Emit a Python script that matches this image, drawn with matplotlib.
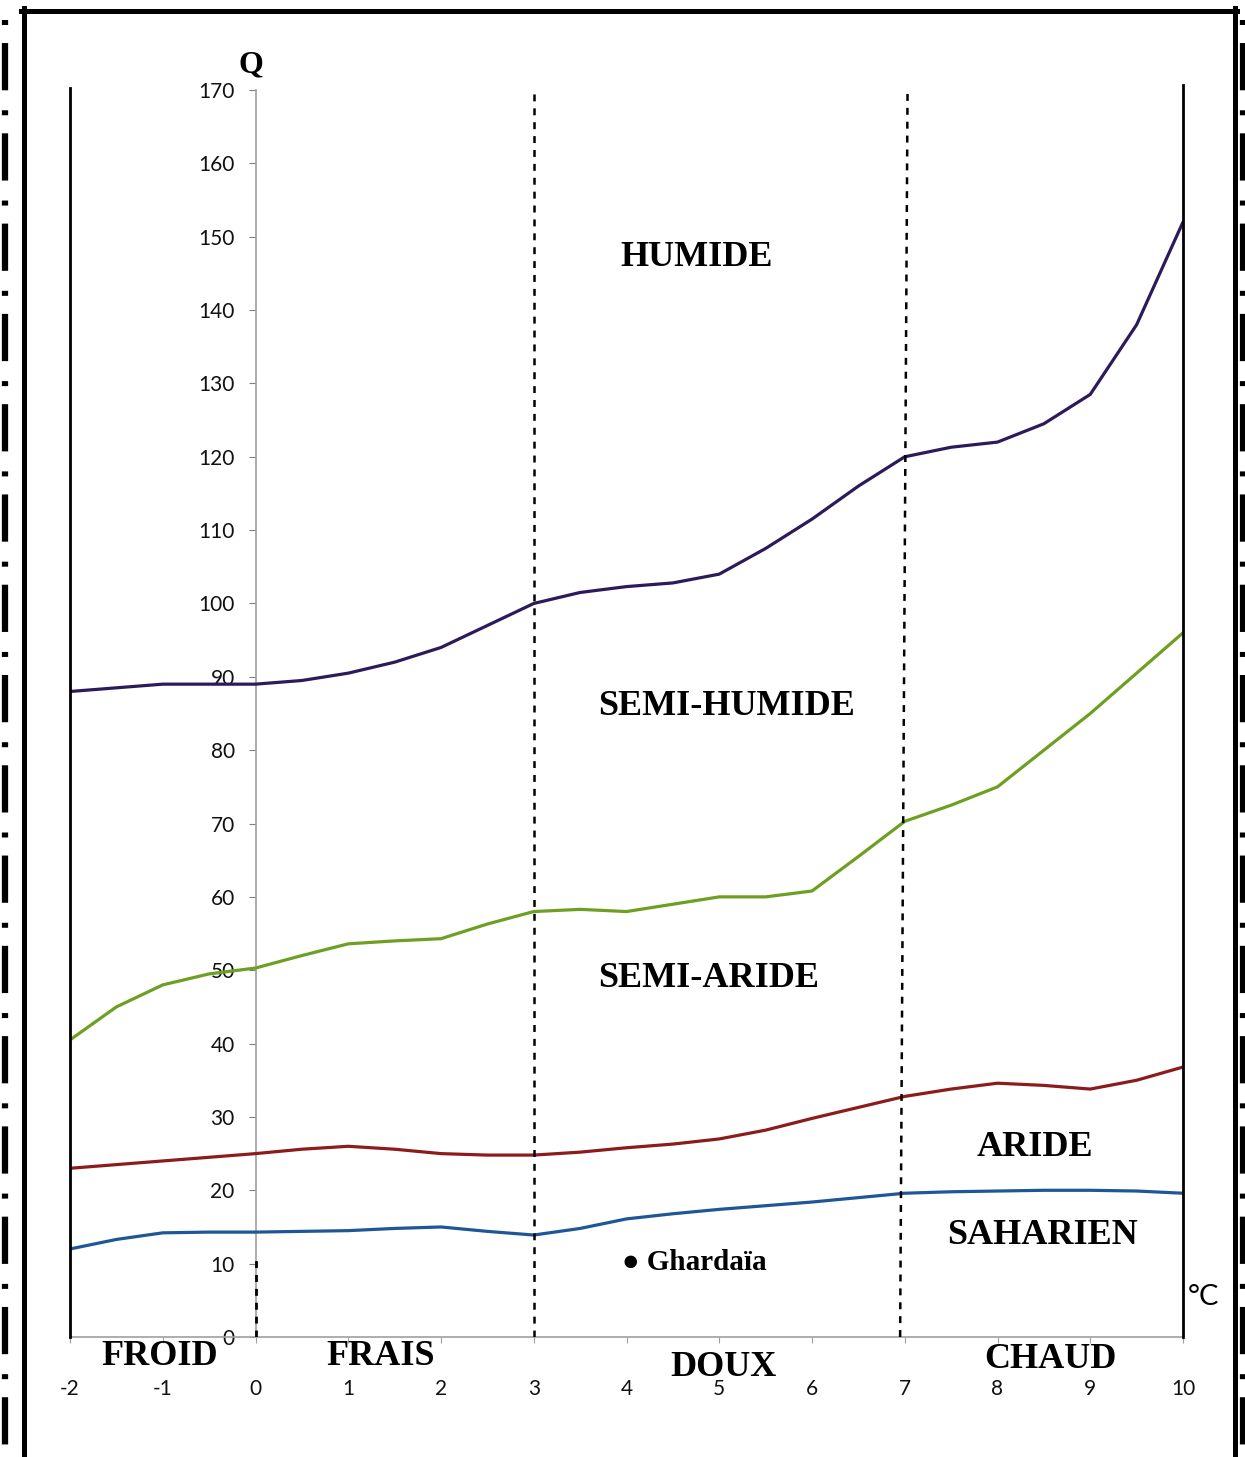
import matplotlib
matplotlib.use("Agg")
import matplotlib.pyplot as plt
from matplotlib.lines import Line2D

plt.rcParams["lines.scale_dashes"] = False

# temperature m (°C), read every half unit
t_vals = [-2, -1.5, -1, -0.5, 0, 0.5, 1, 1.5, 2, 2.5, 3, 3.5, 4, 4.5,
          5, 5.5, 6, 6.5, 7, 7.5, 8, 8.5, 9, 9.5, 10]

# boundary curves of the climagram (Q values)
humide = [88, 88.5, 89, 89, 89, 89.5, 90.5, 92, 94, 97, 100, 101.5, 102.3,
          102.8, 104, 107.5, 111.5, 116, 120, 121.3, 122, 124.5, 128.5, 138, 152]
semi_humide = [40.5, 45, 48, 49.5, 50.3, 52, 53.6, 54, 54.3, 56.3, 58, 58.3, 58,
               59, 60, 60, 60.8, 65.5, 70.3, 72.5, 75, 80, 85, 90.5, 96]
semi_aride = [23, 23.5, 24, 24.5, 25, 25.6, 26, 25.6, 25, 24.8, 24.8, 25.2, 25.8,
              26.3, 27, 28.2, 29.8, 31.3, 32.8, 33.8, 34.6, 34.3, 33.8, 35, 36.8]
aride = [12, 13.3, 14.2, 14.3, 14.3, 14.4, 14.5, 14.8, 15, 14.4, 13.9, 14.8, 16.1,
         16.8, 17.4, 17.9, 18.4, 19, 19.6, 19.8, 19.9, 20, 20, 19.9, 19.6]

curve_colors = ["#2c1a5a", "#6e9f22", "#8c1c1c", "#1f5796"]

x_ticks = list(range(-2, 11))
x_tick_labels = ["-2", "-1"] + [str(v) for v in range(0, 11)]
y_ticks = list(range(0, 171, 10))

zones = ["HUMIDE", "SEMI-HUMIDE", "SEMI-ARIDE", "ARIDE", "SAHARIEN"]
zone_pos = [(4.76, 147.2), (5.08, 85.9), (4.89, 48.9), (8.4, 25.8), (8.49, 13.8)]
winters = ["FROID", "FRAIS", "DOUX", "CHAUD"]
winter_pos = [(-1.03, -2.7), (1.35, -2.7), (5.05, -4.1), (8.57, -3.1)]

station = "Ghardaïa"
station_m, station_q = 4.0, 10.2

W, H = 1245, 1457
fig = plt.figure(figsize=(W / 100, H / 100), dpi=100)
ax = fig.add_axes([70 / W, 1 - 1337 / H, (1183 - 70) / W, (1337 - 90) / H])
ax.set_xlim(-2, 10)
ax.set_ylim(0, 170)

for s in ["top", "right"]:
    ax.spines[s].set_visible(False)
ax.spines["left"].set_position(("data", 0))
ax.spines["left"].set_color("#a0a0a0")
ax.spines["bottom"].set_color("#a0a0a0")
ax.spines["left"].set_linewidth(1.2)
ax.spines["bottom"].set_linewidth(1.2)

ax.set_yticks(y_ticks)
ax.set_yticklabels([str(v) for v in y_ticks])
ax.set_xticks(x_ticks)
ax.set_xticklabels(x_tick_labels)
ax.tick_params(axis="y", length=5, color="#808080", pad=10,
               labelsize=15, labelcolor="#111111")
ax.tick_params(axis="x", length=4, color="#a0a0a0", pad=26,
               labelsize=15, labelcolor="#111111")
for lab in ax.get_xticklabels() + ax.get_yticklabels():
    lab.set_family(["Lato", "DejaVu Sans"])

# frame lines of the diagram
ax.plot([-2, -2], [0, 170.3], color="black", lw=2, clip_on=False, zorder=3)
ax.plot([10, 10], [0, 170.7], color="black", lw=2, clip_on=False, zorder=3)
ax.plot([3, 3], [0, 169.6], color="black", lw=1.8, ls=(0, (5, 5)), zorder=3)
ax.plot([6.95, 7.03], [0, 169.6], color="black", lw=1.8, ls=(0, (5, 5)), zorder=3)
ax.plot([0, 0], [0, 11], color="black", lw=2, ls=(0, (5, 5)), zorder=3)

for vals, col in zip([humide, semi_humide, semi_aride, aride], curve_colors):
    ax.plot(t_vals, vals, color=col, lw=2.3, solid_capstyle="round",
            solid_joinstyle="round", zorder=2.6)

serif = ["Liberation Serif", "DejaVu Serif"]
for name, (xx, yy) in zip(zones, zone_pos):
    ax.text(xx, yy, name, ha="center", va="center", fontsize=26,
            fontweight="bold", family=serif)
for name, (xx, yy) in zip(winters, winter_pos):
    ax.text(xx, yy, name, ha="center", va="center", fontsize=26,
            fontweight="bold", family=serif, clip_on=False)

ax.text(station_m - 0.05, station_q, "\u25cf " + station, ha="left", va="center",
        fontsize=21, fontweight="bold", family=serif)

ax.text(-0.05, 173.4, "Q", ha="center", va="center", fontsize=23,
        fontweight="bold", family=serif)
ax.text(10.22, 5.5, "°C", ha="center", va="center", fontsize=21,
        family=["Lato", "DejaVu Sans"])

# outer border
fig.add_artist(Line2D([23.5 / W, 23.5 / W], [0, 1 - 8 / H], color="black", lw=3.6))
fig.add_artist(Line2D([21 / W, 1237 / W], [1 - 10.5 / H, 1 - 10.5 / H],
                      color="black", lw=3.6))
fig.add_artist(Line2D([1235 / W, 1235 / W], [0, 1 - 8 / H], color="black", lw=3.6))

dash_pat = (0, (3.6, 13, 34, 14.4))
fig.add_artist(Line2D([5.5 / W, 5.5 / W], [1 - 20 / H, 0], color="black",
                      lw=4.5, ls=dash_pat))
fig.add_artist(Line2D([1243 / W, 1243 / W], [1 - 20 / H, 0], color="black",
                      lw=4.5, ls=dash_pat))

fig.savefig("out.png", dpi=100)
